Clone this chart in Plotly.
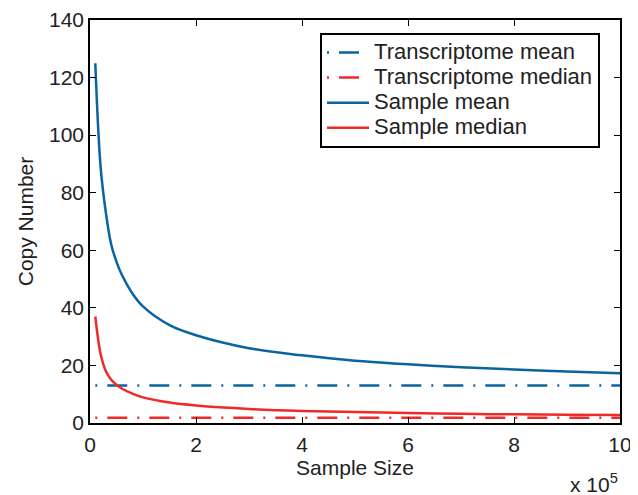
import plotly.graph_objects as go

sample_size = [0.1, 0.2, 0.3, 0.4, 0.5, 0.6, 0.8, 1.0, 1.5, 2.0, 3.0, 4.0, 5.0, 6.0, 7.0, 8.0, 9.0, 10.0]
sample_mean = [125, 89, 73, 62, 56, 51.5, 45, 40.5, 34, 30.5, 26, 23.5, 21.6, 20.4, 19.4, 18.6, 17.9, 17.3]
sample_median = [37, 24, 18, 15, 13.3, 12, 10.2, 8.9, 7.1, 6.1, 4.9, 4.2, 3.8, 3.5, 3.2, 3.0, 2.9, 2.8]
transcriptome_x = [0.1, 10.0]
transcriptome_mean = [13, 13]
transcriptome_median = [1.8, 1.8]
series_names = ["Transcriptome mean", "Transcriptome median", "Sample mean", "Sample median"]

blue = "#0a64a0"
red = "#ee2a2a"
dash = "2px,10px,20px,10px"


def lab(s):
    return '<span style="font-size:22px">' + s + "</span>"


fig = go.Figure()
fig.add_trace(go.Scatter(x=transcriptome_x, y=transcriptome_mean, mode="lines",
                         name=lab(series_names[0]), line=dict(color=blue, width=2.5, dash=dash)))
fig.add_trace(go.Scatter(x=transcriptome_x, y=transcriptome_median, mode="lines",
                         name=lab(series_names[1]), line=dict(color=red, width=2.5, dash=dash)))
fig.add_trace(go.Scatter(x=sample_size, y=sample_mean, mode="lines", line_shape="spline",
                         name=lab(series_names[2]), line=dict(color=blue, width=2.5)))
fig.add_trace(go.Scatter(x=sample_size, y=sample_median, mode="lines", line_shape="spline",
                         name=lab(series_names[3]), line=dict(color=red, width=2.5)))

font = dict(family="Liberation Sans, Arial, sans-serif", size=21, color="#222")
legend_font = dict(family="Liberation Sans, Arial, sans-serif", size=17, color="#222")
axis_common = dict(showline=True, linecolor="black", linewidth=1.5, mirror="ticks",
                   ticks="inside", ticklen=6, tickcolor="black", showgrid=False,
                   zeroline=False, tickfont=font, automargin=False)

fig.update_layout(
    width=630, height=487,
    margin=dict(l=82, r=18, t=12, b=72),
    plot_bgcolor="white", paper_bgcolor="white",
    font=font,
    xaxis=dict(range=[0, 10], tickvals=[0, 2, 4, 6, 8, 10], ticklabelstandoff=2,
               title=dict(text="Sample Size", font=font, standoff=4), **axis_common),
    yaxis=dict(range=[0, 140], tickvals=[0, 20, 40, 60, 80, 100, 120, 140],
               title=dict(text="Copy Number", font=font, standoff=10), **axis_common),
    legend=dict(x=0.434, y=0.968, xanchor="left", yanchor="top",
                bordercolor="black", borderwidth=2, bgcolor="white",
                font=legend_font, tracegroupgap=0, itemwidth=42,
                entrywidth=280, entrywidthmode="pixels"),
    showlegend=True,
)
fig.add_annotation(text="x 10<sup>5</sup>", xref="paper", yref="paper", x=1.0, y=-0.112,
                   xanchor="right", yanchor="top", showarrow=False, font=font)

fig.write_html("out.html")
